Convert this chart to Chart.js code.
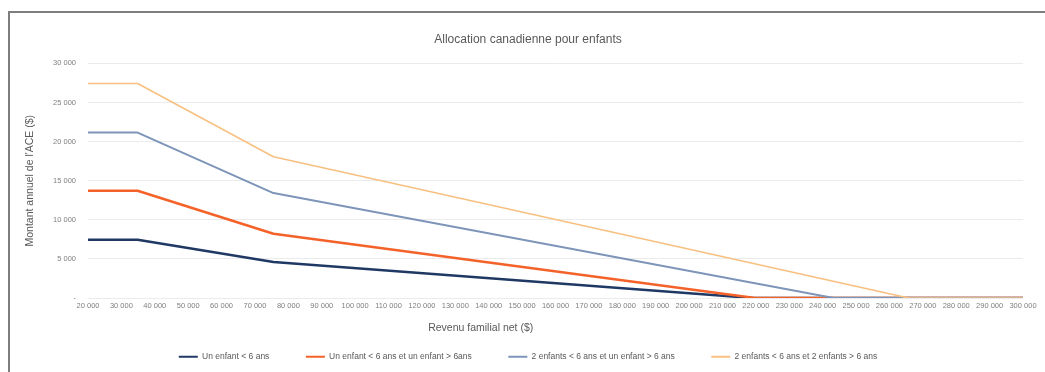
<!DOCTYPE html>
<html>
<head>
<meta charset="utf-8">
<script src="https://cdn.jsdelivr.net/npm/chart.js@4.4.1/dist/chart.umd.min.js"></script>
<style>
  html, body { margin: 0; padding: 0; background: #fff; }
  body { width: 1045px; height: 372px; position: relative; overflow: hidden; }
  #cadre { position: absolute; left: 8px; top: 11px; width: 1045px; height: 372px;
    border-top: 2px solid #7e7e7e; border-left: 2px solid #7e7e7e; }
  #zone { position: absolute; left: 0; top: 13px; width: 1045px; height: 359px; }
</style>
</head>
<body>
<div id="cadre"></div>
<div id="zone"><canvas id="graphique"></canvas></div>
<script>
// Allocation canadienne pour enfants : montant annuel selon le revenu familial net
const titre = 'Allocation canadienne pour enfants';
const titreX = 'Revenu familial net ($)';
const titreY = "Montant annuel de l'ACE ($)";

const noms = [
  'Un enfant < 6 ans',
  'Un enfant < 6 ans et un enfant > 6ans',
  '2 enfants < 6 ans et un enfant > 6 ans',
  '2 enfants < 6 ans et 2 enfants > 6 ans'
];

// points de cassure (revenu, montant)
const revenus1 = [20000, 34863, 75537, 218975, 300000];
const montants1 = [7437, 7437, 4590, 0, 0];
const revenus2 = [20000, 34863, 75537, 219765, 300000];
const montants2 = [13712, 13712, 8221, 0, 0];
const revenus3 = [20000, 34863, 75537, 243300, 300000];
const montants3 = [21149, 21149, 13421, 0, 0];
const revenus4 = [20000, 34863, 75537, 265740, 300000];
const montants4 = [27424, 27424, 18069, 0, 0];

const couleurs = ['#1f3864', '#f4622a', '#7d95b9', '#f8c182'];
const epaisseurs = [2.5, 2.5, 2, 1.6];

const police = '"Liberation Sans", Arial, sans-serif';

function milliers(v) {
  if (v === 0) return '-';
  return String(v).replace(/\B(?=(\d{3})+(?!\d))/g, ' ');
}

const series = [
  [revenus1, montants1],
  [revenus2, montants2],
  [revenus3, montants3],
  [revenus4, montants4]
];

const datasets = series.map((s, i) => ({
  label: noms[i],
  data: s[0].map((x, j) => ({ x: x, y: s[1][j] })),
  borderColor: couleurs[i],
  backgroundColor: couleurs[i],
  borderWidth: epaisseurs[i],
  pointRadius: 0,
  tension: 0,
  borderJoinStyle: 'round',
  order: 4 - i
}));

const titreAxeX = {
  id: 'titreAxeX',
  afterDraw(chart) {
    const ctx = chart.ctx;
    const a = chart.chartArea;
    ctx.save();
    ctx.font = '10.5px ' + police;
    ctx.fillStyle = '#595959';
    ctx.textAlign = 'center';
    ctx.textBaseline = 'middle';
    ctx.fillText(titreX, a.left + 0.42 * (a.right - a.left), a.bottom + 30);
    ctx.restore();
  }
};

new Chart(document.getElementById('graphique').getContext('2d'), {
  type: 'line',
  data: { datasets: datasets },
  plugins: [titreAxeX],
  options: {
    responsive: true,
    maintainAspectRatio: false,
    animation: false,
    layout: { padding: { left: 33, right: 22, top: 0, bottom: 1 } },
    plugins: {
      tooltip: { enabled: false },
      title: {
        display: true,
        text: titre,
        color: '#595959',
        font: { family: police, size: 12, weight: 'normal' },
        padding: { top: 19, bottom: 17 }
      },
      legend: {
        position: 'bottom',
        labels: {
          color: '#595959',
          font: { family: police, size: 8.5 },
          boxWidth: 19,
          boxHeight: 2,
          padding: 36.5,
          sort: (a, b) => a.datasetIndex - b.datasetIndex,
          generateLabels: (chart) =>
            Chart.defaults.plugins.legend.labels.generateLabels(chart)
              .map(l => Object.assign(l, { lineWidth: 0 }))
        }
      }
    },
    scales: {
      x: {
        type: 'linear',
        min: 20000,
        max: 300000,
        afterFit: (s) => { s.height = 18; },
        border: { display: false },
        grid: { display: false, drawTicks: false },
        ticks: {
          stepSize: 10000,
          autoSkip: false,
          maxRotation: 0,
          padding: 3,
          color: '#7f7f7f',
          font: { family: police, size: 7.5 },
          callback: milliers
        }
      },
      y: {
        min: 0,
        max: 30000,
        afterFit: (s) => { s.width = 55; },
        border: { display: false },
        grid: { color: '#ebebeb', lineWidth: 1, drawTicks: false },
        title: {
          display: true,
          text: titreY,
          color: '#595959',
          font: { family: police, size: 10.5 },
          padding: { top: -9, bottom: 0 }
        },
        ticks: {
          stepSize: 5000,
          padding: 12,
          color: '#7f7f7f',
          font: { family: police, size: 7.5 },
          callback: milliers
        }
      }
    }
  }
});
</script>
</body>
</html>
